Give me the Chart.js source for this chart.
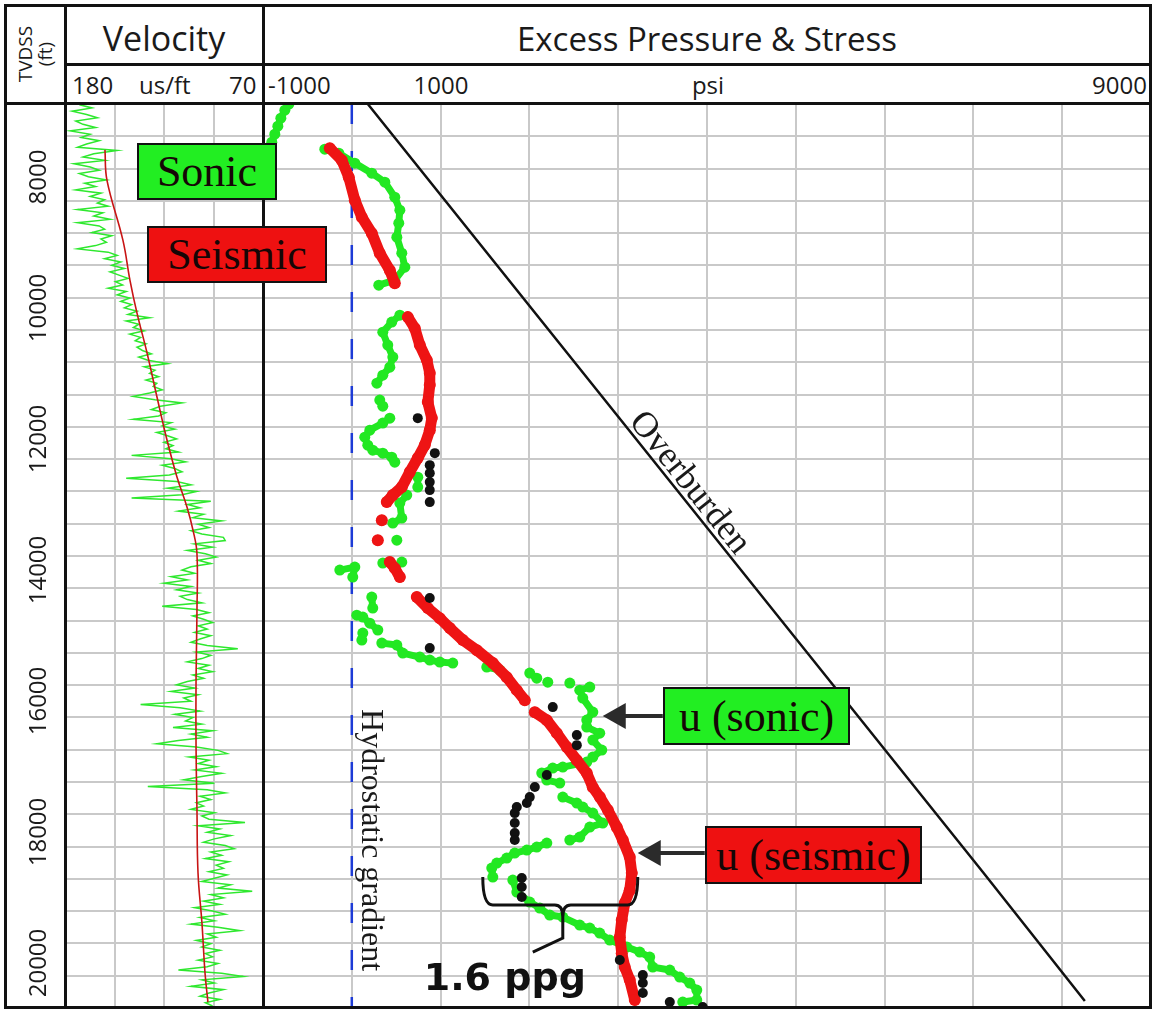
<!DOCTYPE html>
<html>
<head>
<meta charset="utf-8">
<script src="https://cdn.jsdelivr.net/npm/chart.js@4.4.0/dist/chart.umd.min.js"></script>
<style>
  html, body { margin: 0; padding: 0; background: #fff; }
  body { width: 1156px; height: 1012px; position: relative; overflow: hidden; font-family: 'Open Sans', sans-serif; color: #1a1a1a; }
  canvas { position: absolute; }
  .rule { position: absolute; background: #111; z-index: 3; }
  .hdr { position: absolute; white-space: nowrap; line-height: 1; z-index: 3; }
  .tag { position: absolute; box-sizing: border-box; border: 2px solid #111; font-family: 'Liberation Serif', 'Times New Roman', serif;
         font-size: 44px; color: #160606; display: flex; align-items: center; justify-content: center; white-space: nowrap; z-index: 5; }
</style>
</head>
<body>
<canvas id="velocityChart" width="258" height="904" style="left:5px;top:104px"></canvas>
<canvas id="pressureChart" width="888" height="904" style="left:263px;top:104px"></canvas>

<!-- frame -->
<div class="rule" style="left:4px;top:4px;width:1148px;height:3px"></div>
<div class="rule" style="left:4px;top:1006px;width:1148px;height:3px"></div>
<div class="rule" style="left:4px;top:4px;width:3px;height:1005px"></div>
<div class="rule" style="left:1149px;top:4px;width:3px;height:1005px"></div>
<div class="rule" style="left:64px;top:4px;width:3px;height:1005px"></div>
<div class="rule" style="left:262px;top:4px;width:3px;height:1005px"></div>
<div class="rule" style="left:64px;top:63px;width:1088px;height:3px"></div>
<div class="rule" style="left:4px;top:102px;width:1148px;height:3px"></div>

<!-- headers -->
<div class="hdr" style="left:25px;top:54px;font-size:19px;transform:translate(-50%,-50%) rotate(-90deg)">TVDSS</div>
<div class="hdr" style="left:45px;top:54px;font-size:19px;transform:translate(-50%,-50%) rotate(-90deg)">(ft)</div>
<div class="hdr" style="left:164px;top:38px;font-size:34px;transform:translate(-50%,-50%)">Velocity</div>
<div class="hdr" style="left:707px;top:38px;font-size:33px;transform:translate(-50%,-50%)">Excess Pressure &amp; Stress</div>
<div class="hdr" style="left:72px;top:85px;font-size:24px;transform:translateY(-50%)">180</div>
<div class="hdr" style="left:139px;top:85px;font-size:24px;transform:translateY(-50%)">us/ft</div>
<div class="hdr" style="left:229px;top:85px;font-size:24px;transform:translateY(-50%)">70</div>
<div class="hdr" style="left:268px;top:85px;font-size:24px;transform:translateY(-50%)">-1000</div>
<div class="hdr" style="left:441px;top:85px;font-size:24px;transform:translate(-50%,-50%)">1000</div>
<div class="hdr" style="left:708px;top:85px;font-size:24px;transform:translate(-50%,-50%)">psi</div>
<div class="hdr" style="left:1147px;top:85px;font-size:24px;transform:translate(-100%,-50%)">9000</div>

<!-- labels -->
<div class="tag" style="left:137px;top:143px;width:140px;height:57px;background:#22ee22">Sonic</div>
<div class="tag" style="left:147px;top:226px;width:180px;height:57px;background:#ee1111">Seismic</div>
<div class="tag" style="left:663px;top:687px;width:187px;height:58px;background:#22ee22">u (sonic)</div>
<div class="tag" style="left:705px;top:826px;width:217px;height:58px;background:#ee1111">u (seismic)</div>

<script>
// depth axis (ft TVDSS)
const depthMin = 6890;
const depthMax = 20680;
const depthLabels = [8000, 10000, 12000, 14000, 16000, 18000, 20000];

// sonic log (us/ft), one reading every 50 ft from 6900 ft
const sonicLogTop = 6900;
const sonicLogStep = 50;
const sonicLogDt = [
  172, 165, 176, 168, 162, 174, 170, 163, 177, 166, 171, 161, 168, 173, 151,
  164, 170, 158, 175, 166, 161, 172, 167, 157, 169, 163, 174, 160, 166, 158,
  162, 156, 173, 159, 164, 155, 173, 161, 158, 165, 154, 160, 157, 163, 173,
  156, 151, 158, 149, 154, 147, 155, 150, 145, 152, 148, 156, 146, 151, 144,
  149, 143, 147, 140, 145, 133, 146, 139, 142, 136, 144, 138, 141, 135, 140,
  137, 132, 139, 134, 123, 136, 130, 133, 128, 135, 129, 131, 126, 133, 142,
  130, 115, 127, 132, 124, 128, 142, 121, 126, 119, 129, 123, 118, 125, 120,
  124, 117, 143, 121, 113, 126, 119, 115, 122,
  146, 118, 110, 123, 107, 115, 143, 99, 112, 105, 117, 103, 109, 93, 106,
  100, 110, 104, 92, 91, 108, 98, 112, 102, 96, 106, 99, 110,
  115, 108, 121, 112, 125, 110, 118, 106, 116,
  112, 104, 126, 107, 100, 109, 103, 98, 106, 101, 108, 99,
  105, 110, 101, 84, 107, 99, 104, 112, 100, 106, 98, 109, 103,
  112, 118, 108, 121, 106, 114, 110, 138, 116, 105, 119, 109,
  113, 104, 120, 98, 110, 101, 117, 129, 107, 95, 90, 111, 100, 106, 96,
  108, 93, 104, 114, 97, 134, 101, 91, 105,
  99, 107, 103, 110, 97, 104, 100, 80, 106,
  94, 101, 88, 97, 103, 91, 86, 99, 93, 102, 89, 96, 92,
  100, 90, 97, 104, 88, 95, 76, 99, 92,
  103, 94, 108, 98, 91, 105, 97, 110, 95,
  83, 101, 96, 107, 99, 104, 94, 102, 98,
  106, 95, 101, 117, 93, 81, 104, 97, 110, 92, 100, 105, 94, 102, 98
];

// seismic velocity trend
const trendDepth = [7590, 8050, 8970, 9580, 10080, 10690, 11360, 12020, 12580, 13040, 13390, 13740, 14660, 15680, 16700, 17620, 18620, 19390, 20150, 20590];
const trendDt = [157.8, 156.7, 147.8, 143.9, 140.0, 134.4, 128.9, 123.3, 117.8, 112.2, 108.9, 106.7, 106.7, 107.2, 107.2, 106.7, 106.1, 103.9, 102.2, 100.6];

// excess pressure from sonic (psi); null = break in the curve
const sonicPsi = [
  -709, -754, -799, -833, -867, -901, -923, null,
  -304, -146, 34, 225, 372, 484, 541, 529, 507, 563, 597, 484, 304, null,
  541, 450, 349, 405, 462, 428, 349, 282, null,
  315, 349, null,
  428, 349, 203, 146, 180, 236, 349, 450, 484, null,
  743, 743, null,
  619, 541, 563, 462, null,
  507, null,
  349, null,
  563, null,
  -135, 34, 11, null,
  225, 236, null,
  56, 124, 203, 293, null,
  124, 113, null,
  338, 507, 574, 766, 878, 991, 1137, null,
  1520, 1666, null,
  2004, 2083, null,
  2207, null,
  2455, null,
  2680, 2567, 2601, 2714, 2646, 2646, 2792, 2714, 2815, 2714, 2646, 2376, 2263, 2139, 2196, 2342, null,
  2376, 2534, 2601, 2714, 2826, 2680, 2567, 2455, null,
  2196, 2083, 1971, 1835, 1745, 1633, 1576, 1588, null,
  1813, 1858, 2004, 2117, 2229, 2376, 2567, 2680, 2792, 2905, 3097, 3243, 3355, 3389, 3581, 3693, 3806, 3885, 3885, 3727
];
const sonicDepth = [
  6892, 6984, 7106, 7228, 7350, 7472, 7594, null,
  7579, 7640, 7792, 7945, 8082, 8311, 8509, 8708, 8921, 9165, 9379, 9577, 9654, null,
  10111, 10217, 10370, 10568, 10751, 10904, 11026, 11148, null,
  11407, 11499, null,
  11682, 11758, 11865, 11972, 12094, 12170, 12216, 12277, 12353, null,
  12582, 12734, null,
  12856, 12978, 13207, 13283, null,
  13543, null,
  13893, null,
  13878, null,
  14000, 13954, 14107, null,
  14412, 14580, null,
  14687, 14717, 14809, 14915, null,
  14961, 15068, null,
  15114, 15144, 15266, 15327, 15373, 15403, 15419, null,
  15480, 15525, null,
  15571, 15648, null,
  15709, null,
  15724, null,
  15785, 15831, 15953, 16166, 16288, 16395, 16487, 16593, 16746, 16853, 16929, 17005, 17020, 17097, 17203, 17249, null,
  17463, 17554, 17615, 17707, 17859, 17920, 18073, 18118, null,
  18164, 18225, 18271, 18317, 18393, 18469, 18546, 18683, null,
  18729, 18912, 19064, 19156, 19262, 19293, 19415, 19461, 19537, 19644, 19751, 19827, 19903, 20056, 20101, 20208, 20300, 20406, 20559, 20589
];

// excess pressure from seismic (psi)
const seismicPsi = [
  -248, -113, -34, 34, 113, 225, 315, 428, 484, null,
  631, 709, 766, 845, 878, 878, 856, 901, 878, 822, 743, 653, 563, 462, 394, null,
  338, null, 293, null,
  428, 484, 541, null,
  732, 856, 991, 1104, 1250, 1408, 1588, 1745, 1858, 1948, null,
  2061, 2196, 2309, 2421, 2534, 2646, 2714, 2793, 2883, 2984, 3052, 3130, 3153, 3130, 3074, 3040, 3018, 3040, 3074, 3130, 3187
];
const seismicDepth = [
  7564, 7747, 8006, 8357, 8616, 8860, 9165, 9425, 9623, null,
  10141, 10309, 10568, 10797, 10995, 11178, 11437, 11681, 11865, 12093, 12291, 12505, 12734, 12856, 12963, null,
  13238, null, 13543, null,
  13878, 13970, 14107, null,
  14412, 14580, 14733, 14885, 15068, 15221, 15419, 15633, 15831, 15984, null,
  16167, 16289, 16487, 16700, 16899, 17097, 17311, 17463, 17661, 17921, 18119, 18378, 18622, 18882, 19080, 19339, 19599, 19843, 20056, 20254, 20559
];

// measured pressures (psi)
const measuredPsi = [743, 935, 878, 878, 878, 878, 878, 878, 878, 2263, 2534, 2534, 2196, 2061, 2004, 1971, 1858, 1835, 1835, 1835, 1835, 1914, 1914, 1914, 3018, 3277, 3277, 3277, 3581, 3952];
const measuredDepth = [11682, 12216, 12399, 12521, 12658, 12780, 12963, 14427, 15190, 16090, 16517, 16670, 17127, 17310, 17463, 17554, 17615, 17707, 17859, 18012, 18118, 18698, 18835, 18988, 19949, 20178, 20300, 20452, 20589, 20665];

// overburden and hydrostatic
const overburdenPsi = [180, 7106, 8255];
const overburdenDepth = [6890, 18606, 20574];
const hydroPsi = [0, 0];
const hydroDepth = [6890, 20680];

Chart.defaults.font.family = "'Open Sans', sans-serif";

function pairs(xs, ys) {
  return xs.map((v, i) => ({ x: v, y: ys[i] }));
}

const gridStyle = { color: '#c9c9c9', lineWidth: 2, drawTicks: false };

function depthAxis(width) {
  return {
    type: 'linear',
    min: depthMin,
    max: depthMax,
    reverse: true,
    border: { display: false },
    grid: gridStyle,
    ticks: { display: false, stepSize: 500, includeBounds: false, autoSkip: false },
    afterFit: s => { s.width = width; s.paddingTop = 0; s.paddingBottom = 0; }
  };
}

function flatX(min, max, step, reverse) {
  return {
    type: 'linear', min: min, max: max, reverse: reverse,
    border: { display: false },
    grid: gridStyle,
    ticks: { display: false, stepSize: step },
    afterFit: s => { s.height = 0; s.paddingLeft = 0; s.paddingRight = 0; }
  };
}

const baseOptions = {
  responsive: false,
  animation: false,
  events: [],
  layout: { padding: 0, autoPadding: false },
  plugins: { legend: { display: false }, tooltip: { enabled: false } }
};

// velocity track
const velocityChart = new Chart(document.getElementById('velocityChart'), {
  type: 'scatter',
  data: {
    datasets: [
      {
        label: 'Seismic',
        data: pairs(trendDt, trendDepth),
        showLine: true, tension: 0.4, clip: 0,
        borderColor: '#c81414', borderWidth: 1.6, pointRadius: 0
      },
      {
        label: 'Sonic',
        data: sonicLogDt.map((v, i) => ({ x: v, y: sonicLogTop + i * sonicLogStep })),
        showLine: true, clip: 0,
        borderColor: '#2ee82e', borderWidth: 1.5, pointRadius: 0
      }
    ]
  },
  options: Object.assign({}, baseOptions, {
    scales: { x: flatX(70, 180, 27.5, true), y: depthAxis(60) }
  })
});

// rotated depth labels in the left column, placed with the depth scale
const velCanvas = document.getElementById('velocityChart');
const depthScale = velocityChart.scales.y;
depthLabels.forEach(v => {
  const el = document.createElement('div');
  el.className = 'hdr';
  el.textContent = String(v);
  const top = velCanvas.offsetTop + depthScale.getPixelForValue(v);
  el.style.cssText = 'left:37px;top:' + top + 'px;font-size:24px;transform:translate(-50%,-50%) rotate(-90deg)';
  document.body.appendChild(el);
});

// notes on the pressure track
const pressureNotes = {
  id: 'pressureNotes',
  afterDatasetsDraw(chart) {
    const { ctx, scales: { x, y } } = chart;
    const px = v => x.getPixelForValue(v);
    const py = v => y.getPixelForValue(v);
    ctx.save();
    ctx.fillStyle = '#1a1a1a';
    ctx.strokeStyle = '#1a1a1a';

    // hydrostatic gradient
    ctx.save();
    ctx.font = '32px "Liberation Serif", serif';
    ctx.textAlign = 'center';
    ctx.textBaseline = 'middle';
    ctx.translate(px(214), py(18119));
    ctx.rotate(Math.PI / 2);
    ctx.fillText('Hydrostatic gradient', 0, 0);
    ctx.restore();

    // overburden, written along the line
    const ax = px(overburdenPsi[0]), ay = py(overburdenDepth[0]);
    const bx = px(overburdenPsi[1]), by = py(overburdenDepth[1]);
    const t = 0.505;
    ctx.save();
    ctx.font = '36px "Liberation Serif", serif';
    ctx.textAlign = 'center';
    ctx.textBaseline = 'bottom';
    ctx.translate(ax + (bx - ax) * t, ay + (by - ay) * t);
    ctx.rotate(Math.atan2(by - ay, bx - ax));
    ctx.fillText('Overburden', 0, 4);
    ctx.restore();

    // arrows from the u labels
    ctx.fillStyle = '#2b2b2b';
    ctx.strokeStyle = '#2b2b2b';
    [[3502, 2826, 16227], [3975, 3220, 18317]].forEach(([from, to, d]) => {
      const x0 = px(from), x1 = px(to), yy = py(d);
      ctx.lineWidth = 4;
      ctx.beginPath();
      ctx.moveTo(x0, yy);
      ctx.lineTo(x1 + 18, yy);
      ctx.stroke();
      ctx.beginPath();
      ctx.moveTo(x1, yy);
      ctx.lineTo(x1 + 23, yy - 13);
      ctx.lineTo(x1 + 23, yy + 13);
      ctx.closePath();
      ctx.fill();
    });

    // brace for the 1.6 ppg difference
    const bl = px(1475), br = px(3220), bm = px(2376);
    const bt = py(18683), bb = py(19110), bp = py(19293);
    ctx.strokeStyle = '#111';
    ctx.lineWidth = 3;
    ctx.beginPath();
    ctx.moveTo(bl, bt);
    ctx.quadraticCurveTo(bl, bb, bl + 10, bb);
    ctx.lineTo(bm - 8, bb);
    ctx.quadraticCurveTo(bm, bb, bm, bp);
    ctx.quadraticCurveTo(bm, bb, bm + 8, bb);
    ctx.lineTo(br - 10, bb);
    ctx.quadraticCurveTo(br, bb, br, bt);
    ctx.stroke();
    ctx.beginPath();
    ctx.moveTo(bm, bp);
    ctx.lineTo(bm, py(19613));
    ctx.lineTo(px(2038), py(19827));
    ctx.stroke();

    ctx.fillStyle = '#111';
    ctx.font = 'bold 38px "DejaVu Sans", sans-serif';
    ctx.textAlign = 'center';
    ctx.textBaseline = 'middle';
    ctx.fillText('1.6 ppg', px(1723), py(20250));
    ctx.restore();
  }
};

// excess pressure & stress track
new Chart(document.getElementById('pressureChart'), {
  type: 'scatter',
  data: {
    datasets: [
      {
        label: 'Measured',
        data: pairs(measuredPsi, measuredDepth), clip: 0,
        pointRadius: 5, pointBorderWidth: 0, backgroundColor: '#111'
      },
      {
        label: 'u (seismic)',
        data: pairs(seismicPsi, seismicDepth), showLine: true, clip: 0,
        borderColor: '#ee1414', backgroundColor: '#ee1414', borderWidth: 11,
        borderCapStyle: 'round', borderJoinStyle: 'round',
        pointRadius: 6, pointBorderWidth: 0
      },
      {
        label: 'u (sonic)',
        data: pairs(sonicPsi, sonicDepth), showLine: true, clip: 0,
        borderColor: '#22e822', backgroundColor: '#22e822', borderWidth: 7,
        borderCapStyle: 'round', borderJoinStyle: 'round',
        pointRadius: 5.5, pointBorderWidth: 0
      },
      {
        label: 'Overburden',
        data: pairs(overburdenPsi, overburdenDepth), showLine: true, clip: 0,
        borderColor: '#111', borderWidth: 2.5, pointRadius: 0
      },
      {
        label: 'Hydrostatic',
        data: pairs(hydroPsi, hydroDepth), showLine: true, clip: 0,
        borderColor: '#1d3bd6', borderWidth: 2.5, borderDash: [20, 27], pointRadius: 0
      }
    ]
  },
  options: Object.assign({}, baseOptions, {
    scales: { x: flatX(-1000, 9000, 1000, false), y: depthAxis(0) }
  }),
  plugins: [pressureNotes]
});
</script>
</body>
</html>
